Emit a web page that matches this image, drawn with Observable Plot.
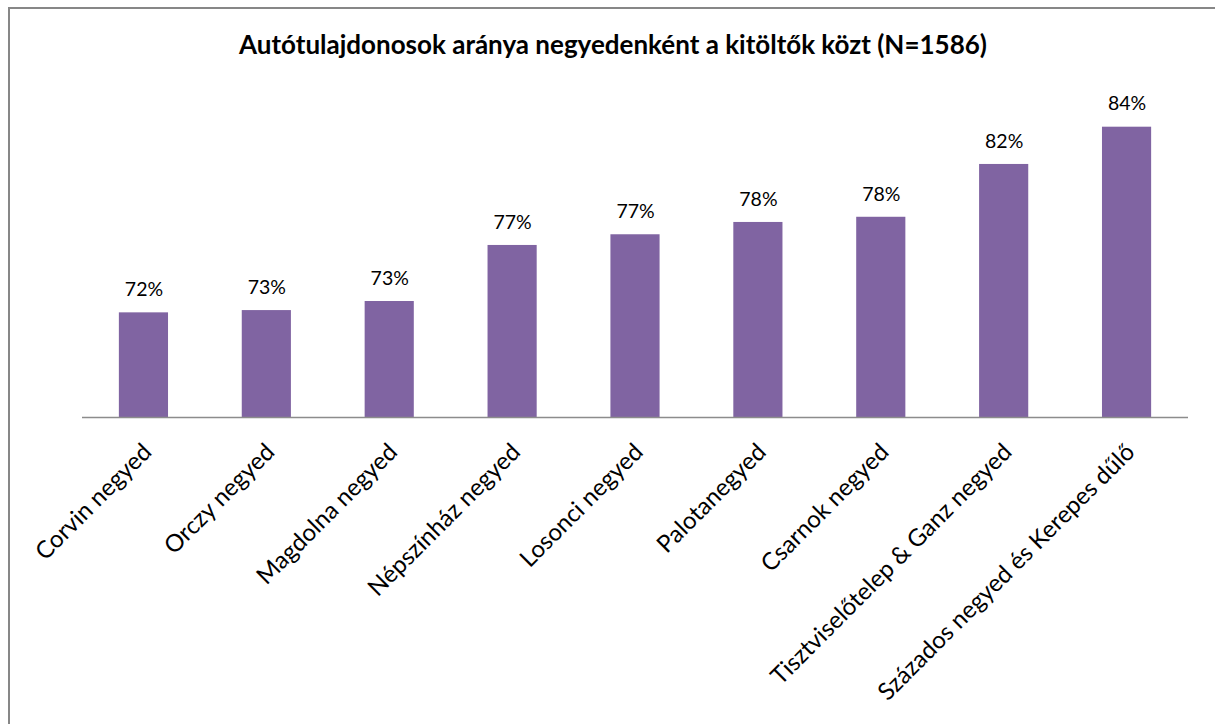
<!DOCTYPE html>
<html>
<head>
<meta charset="utf-8">
<script src="https://cdn.jsdelivr.net/npm/d3@7"></script>
<script src="https://cdn.jsdelivr.net/npm/@observablehq/plot@0.6"></script>
<style>
  html, body { margin: 0; padding: 0; background: #fff; }
  body { width: 1215px; height: 724px; position: relative; overflow: hidden; font-family: Lato, "Open Sans", sans-serif; }
  #frame { position: absolute; left: 8px; top: 7px; width: 1300px; height: 800px; border-left: 2px solid #878787; border-top: 2px solid #878787; box-sizing: border-box; pointer-events: none; }
  #titlebox { position: relative; height: 80px; }
  #title { position: absolute; left: 613px; top: 28px; transform: translateX(-50%); white-space: nowrap; font-weight: bold; font-size: 26px; line-height: 32px; color: #000; font-family: Lato, sans-serif; }
  #chart svg { display: block; }
</style>
</head>
<body>
<div id="frame"></div>
<div id="titlebox"><div id="title">Autótulajdonosok aránya negyedenként a kitöltők közt (N=1586)</div></div>
<div id="chart"></div>
<script>
const categories = [
  "Corvin negyed",
  "Orczy negyed",
  "Magdolna negyed",
  "Népszínház negyed",
  "Losonci negyed",
  "Palotanegyed",
  "Csarnok negyed",
  "Tisztviselőtelep & Ganz negyed",
  "Százados negyed és Kerepes dűlő"
];
const shares = [0.7246, 0.7260, 0.7316, 0.7662, 0.7728, 0.7804, 0.7836, 0.8162, 0.8392];

const data = categories.map((c, i) => ({category: c, value: shares[i]}));
const pct = d3.format(".0%");
const yMin = 0.66;

const chart = Plot.plot({
  width: 1215,
  height: 644,
  marginLeft: 82,
  marginRight: 27,
  marginTop: 13,
  marginBottom: 307,
  style: {fontFamily: "Lato, sans-serif", background: "transparent"},
  x: {domain: categories, paddingInner: 0.6, paddingOuter: 0.3, round: false, axis: null},
  y: {domain: [yMin, 0.86], axis: null},
  marks: [
    Plot.rectY(data, {x: "category", y1: yMin, y2: "value", fill: "#8064A2"}),
    Plot.ruleY([yMin], {stroke: "#8c8c8c", strokeWidth: 1.5}),
    Plot.text(data, {x: "category", y: "value", text: d => pct(d.value), dy: -23, fontSize: 19.5, fill: "#000"}),
    Plot.text(data, {x: "category", frameAnchor: "bottom", text: "category", rotate: -45, textAnchor: "end", lineAnchor: "top", dx: -3, dy: 24, fontSize: 24, fill: "#000"})
  ]
});
document.getElementById("chart").appendChild(chart);
</script>
</body>
</html>
